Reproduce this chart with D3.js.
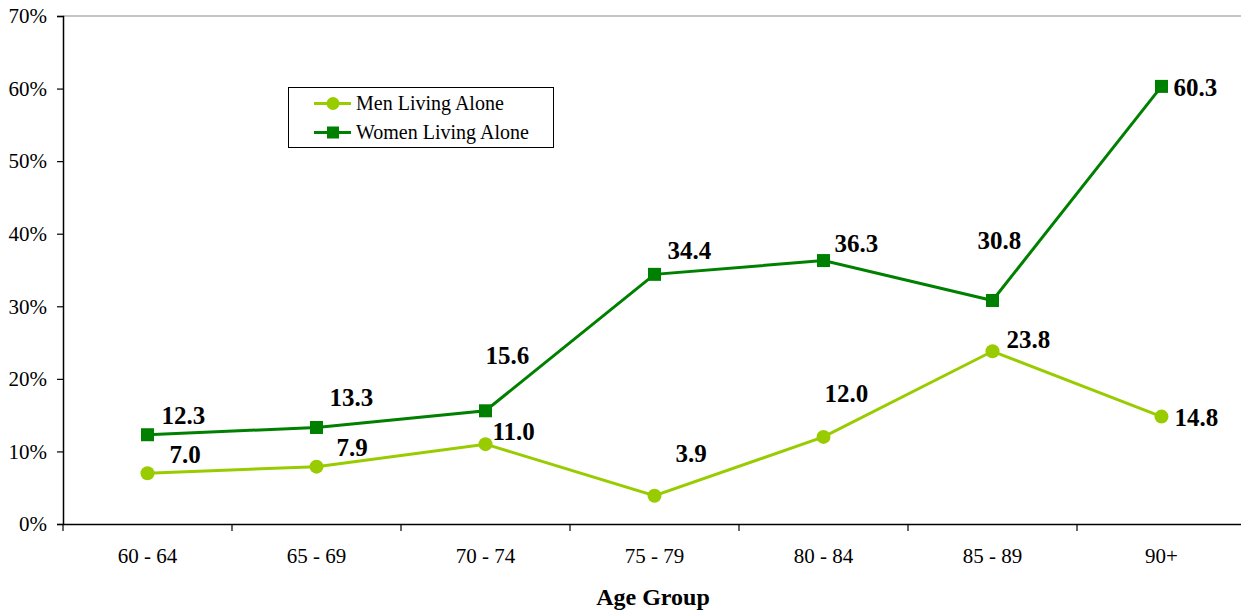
<!DOCTYPE html>
<html>
<head>
<meta charset="utf-8">
<script src="https://cdn.jsdelivr.net/npm/d3@7"></script>
<style>
  html, body { margin: 0; padding: 0; background: #fff; }
  svg { display: block; }
  text { font-family: "Liberation Serif", "Times New Roman", Times, serif; fill: #000; }
</style>
</head>
<body>
<svg id="chart" width="1241" height="614"></svg>
<script>
// ---- data ----
const categories = ["60 - 64", "65 - 69", "70 - 74", "75 - 79", "80 - 84", "85 - 89", "90+"];
const menValues = [7.0, 7.9, 11.0, 3.9, 12.0, 23.8, 14.8];
const womenValues = [12.3, 13.3, 15.6, 34.4, 36.3, 30.8, 60.3];
const yTicks = [0, 10, 20, 30, 40, 50, 60, 70];
const seriesNames = ["Men Living Alone", "Women Living Alone"];
const xTitle = "Age Group";

// label placement offsets (dx, dy) relative to each point
const menLabelOffsets = [[22, -10], [20, -11], [7, -4], [21, -34], [1, -35], [14, -3], [13, 9]];
const womenLabelOffsets = [[14, -11], [13, -21], [0, -47], [13, -15], [11, -9], [-15, -51], [12, 10]];

// ---- layout ----
const svg = d3.select("#chart");
const plotLeft = 63, plotTop = 16, plotBottom = 524, step = 169;
const x = d3.scaleBand().domain(categories).range([plotLeft, plotLeft + step * categories.length]).padding(0);
const y = d3.scaleLinear().domain([0, 70]).range([plotBottom, plotTop]);
const cx = d => x(d) + x.bandwidth() / 2;

const menColor = "#99CC00";
const womenColor = "#008000";
const serif = '"Liberation Serif", "Times New Roman", serif';

// top gridline
svg.append("line")
  .attr("x1", plotLeft).attr("x2", 1241)
  .attr("y1", y(70)).attr("y2", y(70))
  .attr("stroke", "#8c8c8c").attr("stroke-width", 1.2);

// y axis
const yAxis = d3.axisLeft(y).tickValues(yTicks).tickFormat(d => d + "%").tickSize(6).tickPadding(10);
const yg = svg.append("g").attr("transform", `translate(${plotLeft},0)`).call(yAxis);
yg.select(".domain").attr("stroke", "#000").attr("stroke-width", 1.5);
yg.selectAll(".tick line").attr("stroke", "#000").attr("stroke-width", 1.2);
yg.selectAll(".tick text").style("font-size", "21px").style("font-family", serif).attr("fill", "#000");

// x axis
const xAxis = d3.axisBottom(x).tickSize(0).tickPadding(0).tickFormat(d => d);
const xg = svg.append("g").attr("transform", `translate(0,${plotBottom})`).call(xAxis);
xg.select(".domain").attr("stroke", "#000").attr("stroke-width", 1.5);
xg.selectAll(".tick text")
  .attr("y", 39).attr("dy", 0)
  .style("font-size", "21px").style("font-family", serif).attr("fill", "#000");
// tick marks at band boundaries
xg.selectAll("line.bound")
  .data(categories)
  .enter().append("line").attr("class", "bound")
  .attr("x1", d => x(d)).attr("x2", d => x(d))
  .attr("y1", 0).attr("y2", 7)
  .attr("stroke", "#000").attr("stroke-width", 1.2);

// x title
svg.append("text")
  .attr("x", 653).attr("y", 605)
  .attr("text-anchor", "middle")
  .style("font-size", "24px").style("font-weight", "bold")
  .text(xTitle);

// lines
const line = d3.line().x((d, i) => cx(categories[i])).y(d => y(d));

svg.append("path").datum(menValues)
  .attr("d", line).attr("fill", "none").attr("stroke", menColor).attr("stroke-width", 3);
svg.append("path").datum(womenValues)
  .attr("d", line).attr("fill", "none").attr("stroke", womenColor).attr("stroke-width", 3);

// markers
svg.selectAll("circle.men").data(menValues).enter().append("circle")
  .attr("class", "men")
  .attr("cx", (d, i) => cx(categories[i])).attr("cy", d => y(d))
  .attr("r", 7).attr("fill", menColor);

const sq = 13;
svg.selectAll("rect.women").data(womenValues).enter().append("rect")
  .attr("class", "women")
  .attr("x", (d, i) => cx(categories[i]) - sq / 2).attr("y", d => y(d) - sq / 2)
  .attr("width", sq).attr("height", sq).attr("fill", womenColor);

// data labels
function labels(values, offsets, cls) {
  svg.selectAll("text." + cls).data(values).enter().append("text")
    .attr("class", cls)
    .attr("x", (d, i) => cx(categories[i]) + offsets[i][0])
    .attr("y", (d, i) => y(d) + offsets[i][1])
    .style("font-size", "25px").style("font-weight", "bold")
    .text(d => d.toFixed(1));
}
labels(womenValues, womenLabelOffsets, "wl");
labels(menValues, menLabelOffsets, "ml");

// legend
const lg = svg.append("g");
lg.append("rect")
  .attr("x", 288.5).attr("y", 87.5).attr("width", 265).attr("height", 60)
  .attr("fill", "#fff").attr("stroke", "#000").attr("stroke-width", 1);
const legendRows = [
  { name: seriesNames[0], color: menColor, shape: "circle", ly: 103.5 },
  { name: seriesNames[1], color: womenColor, shape: "square", ly: 132.5 }
];
legendRows.forEach(r => {
  lg.append("line").attr("x1", 314).attr("x2", 351).attr("y1", r.ly).attr("y2", r.ly)
    .attr("stroke", r.color).attr("stroke-width", 3);
  if (r.shape === "circle") {
    lg.append("circle").attr("cx", 333).attr("cy", r.ly).attr("r", 6.5).attr("fill", r.color);
  } else {
    lg.append("rect").attr("x", 333 - 6).attr("y", r.ly - 6).attr("width", 12).attr("height", 12).attr("fill", r.color);
  }
  lg.append("text").attr("x", 356).attr("y", r.ly + 6.5)
    .style("font-size", "20px").text(r.name);
});
</script>
</body>
</html>
